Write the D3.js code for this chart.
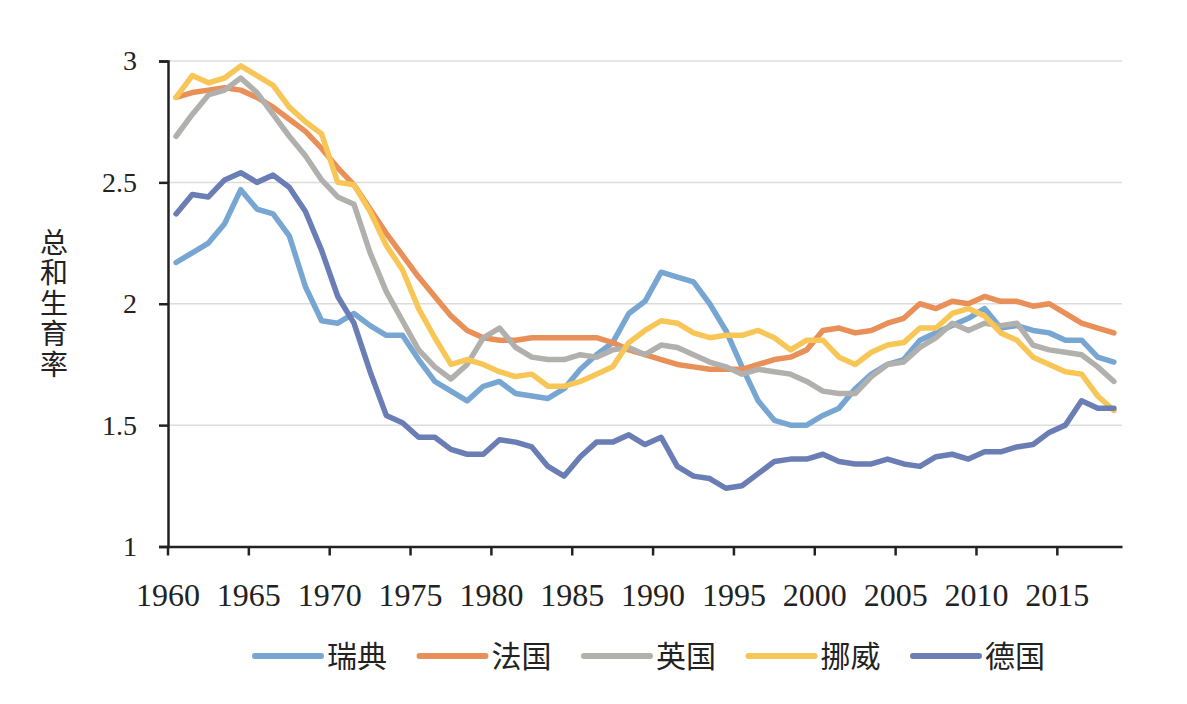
<!DOCTYPE html>
<html>
<head>
<meta charset="utf-8">
<script src="https://cdn.jsdelivr.net/npm/d3@7"></script>
<style>
  body { margin: 0; background: #fff; }
  svg text { fill: #222; }
</style>
</head>
<body>
<div id="chart"></div>
<script>
// years 1960-2018
const years = d3.range(1960, 2019);
const xTicks = [1960, 1965, 1970, 1975, 1980, 1985, 1990, 1995, 2000, 2005, 2010, 2015];
const yTicks = [1, 1.5, 2, 2.5, 3];

const sweden = [2.17, 2.21, 2.25, 2.33, 2.47, 2.39, 2.37, 2.28, 2.07, 1.93,
  1.92, 1.96, 1.91, 1.87, 1.87, 1.77, 1.68, 1.64, 1.60, 1.66,
  1.68, 1.63, 1.62, 1.61, 1.65, 1.73, 1.79, 1.84, 1.96, 2.01,
  2.13, 2.11, 2.09, 2.00, 1.89, 1.74, 1.60, 1.52, 1.50, 1.50,
  1.54, 1.57, 1.65, 1.71, 1.75, 1.77, 1.85, 1.88, 1.91, 1.94,
  1.98, 1.90, 1.91, 1.89, 1.88, 1.85, 1.85, 1.78, 1.76];
const france = [2.85, 2.87, 2.88, 2.89, 2.88, 2.85, 2.81, 2.76, 2.71, 2.64,
  2.56, 2.49, 2.39, 2.29, 2.20, 2.11, 2.03, 1.95, 1.89, 1.86,
  1.85, 1.85, 1.86, 1.86, 1.86, 1.86, 1.86, 1.84, 1.81, 1.79,
  1.77, 1.75, 1.74, 1.73, 1.73, 1.73, 1.75, 1.77, 1.78, 1.81,
  1.89, 1.90, 1.88, 1.89, 1.92, 1.94, 2.00, 1.98, 2.01, 2.00,
  2.03, 2.01, 2.01, 1.99, 2.00, 1.96, 1.92, 1.90, 1.88];
const uk = [2.69, 2.78, 2.86, 2.88, 2.93, 2.87, 2.78, 2.69, 2.61, 2.51,
  2.44, 2.41, 2.21, 2.05, 1.93, 1.81, 1.74, 1.69, 1.75, 1.86,
  1.90, 1.82, 1.78, 1.77, 1.77, 1.79, 1.78, 1.81, 1.82, 1.79,
  1.83, 1.82, 1.79, 1.76, 1.74, 1.71, 1.73, 1.72, 1.71, 1.68,
  1.64, 1.63, 1.63, 1.70, 1.75, 1.76, 1.82, 1.86, 1.92, 1.89,
  1.92, 1.91, 1.92, 1.83, 1.81, 1.80, 1.79, 1.74, 1.68];
const norway = [2.85, 2.94, 2.91, 2.93, 2.98, 2.94, 2.90, 2.81, 2.75, 2.70,
  2.50, 2.49, 2.38, 2.24, 2.14, 1.98, 1.86, 1.75, 1.77, 1.75,
  1.72, 1.70, 1.71, 1.66, 1.66, 1.68, 1.71, 1.74, 1.84, 1.89,
  1.93, 1.92, 1.88, 1.86, 1.87, 1.87, 1.89, 1.86, 1.81, 1.85,
  1.85, 1.78, 1.75, 1.80, 1.83, 1.84, 1.90, 1.90, 1.96, 1.98,
  1.95, 1.88, 1.85, 1.78, 1.75, 1.72, 1.71, 1.62, 1.56];
const germany = [2.37, 2.45, 2.44, 2.51, 2.54, 2.50, 2.53, 2.48, 2.38, 2.22,
  2.03, 1.92, 1.72, 1.54, 1.51, 1.45, 1.45, 1.40, 1.38, 1.38,
  1.44, 1.43, 1.41, 1.33, 1.29, 1.37, 1.43, 1.43, 1.46, 1.42,
  1.45, 1.33, 1.29, 1.28, 1.24, 1.25, 1.30, 1.35, 1.36, 1.36,
  1.38, 1.35, 1.34, 1.34, 1.36, 1.34, 1.33, 1.37, 1.38, 1.36,
  1.39, 1.39, 1.41, 1.42, 1.47, 1.50, 1.60, 1.57, 1.57];

const names = ["瑞典", "法国", "英国", "挪威", "德国"];
const colors = ["#78a6d2", "#e98f58", "#b1b0ad", "#f8c656", "#6a7db5"];
const series = [sweden, france, uk, norway, germany];

const width = 1187, height = 704;
const margin = { left: 168, right: 1122, top: 61, bottom: 546.5 };

const svg = d3.select("#chart").append("svg")
  .attr("width", width)
  .attr("height", height);

const x = d3.scaleBand().domain(years).range([margin.left, margin.right]);
const y = d3.scaleLinear().domain([1, 3]).range([margin.bottom, margin.top]);

// gridlines
svg.append("g")
  .selectAll("line")
  .data(yTicks.slice(1))
  .join("line")
  .attr("x1", margin.left)
  .attr("x2", margin.right)
  .attr("y1", d => y(d))
  .attr("y2", d => y(d))
  .attr("stroke", "#dcdcdc")
  .attr("stroke-width", 1.5);

// lines
const line = d3.line()
  .x((d, i) => x(years[i]) + x.bandwidth() / 2)
  .y(d => y(d));

svg.append("g")
  .selectAll("path")
  .data(series)
  .join("path")
  .attr("d", d => line(d))
  .attr("fill", "none")
  .attr("stroke", (d, i) => colors[i])
  .attr("stroke-width", 5.5)
  .attr("stroke-linejoin", "round")
  .attr("stroke-linecap", "round");

// y axis
const yAxis = svg.append("g")
  .attr("transform", `translate(${margin.left},0)`)
  .call(d3.axisLeft(y).tickValues(yTicks).tickSize(9).tickPadding(22)
    .tickFormat(d => d));
yAxis.select(".domain").attr("stroke", "#222").attr("stroke-width", 2.5);
yAxis.selectAll(".tick line").attr("stroke", "#222").attr("stroke-width", 2.5);
yAxis.selectAll("text")
  .style("font-family", "'Liberation Serif', serif")
  .style("font-size", "28px")
  .attr("fill", "#222");

// x axis
const xAxis = svg.append("g")
  .attr("transform", `translate(0,${margin.bottom})`)
  .call(d3.axisBottom(x).tickValues(xTicks).tickSize(0).tickFormat(""));
xAxis.select(".domain").attr("stroke", "#222").attr("stroke-width", 2.5);
xAxis.selectAll(".tick").remove();

const xt = xAxis.selectAll(".xtick")
  .data(xTicks)
  .join("g")
  .attr("class", "xtick")
  .attr("transform", d => `translate(${x(d)},0)`);
xt.append("line")
  .attr("y1", 0).attr("y2", 9)
  .attr("stroke", "#222").attr("stroke-width", 2.5);
xt.append("text")
  .attr("y", 59)
  .attr("text-anchor", "middle")
  .style("font-family", "'Liberation Serif', serif")
  .style("font-size", "32px")
  .attr("fill", "#222")
  .text(d => d);

// y title, vertical
svg.append("text")
  .attr("x", 54)
  .attr("y", 228)
  .style("writing-mode", "vertical-rl")
  .style("font-family", "'Noto Sans CJK SC', sans-serif")
  .style("font-size", "28px")
  .style("letter-spacing", "2.5px")
  .text("总和生育率");

// legend
const legend = svg.append("g")
  .selectAll("g")
  .data(names)
  .join("g")
  .attr("transform", (d, i) => `translate(${255 + i * 164.5},656)`);
legend.append("line")
  .attr("x1", 0).attr("x2", 66)
  .attr("stroke", (d, i) => colors[i])
  .attr("stroke-width", 6)
  .attr("stroke-linecap", "round");
legend.append("text")
  .attr("x", 72)
  .attr("y", 11)
  .style("font-family", "'Noto Sans CJK SC', sans-serif")
  .style("font-size", "30px")
  .text(d => d);
</script>
</body>
</html>
